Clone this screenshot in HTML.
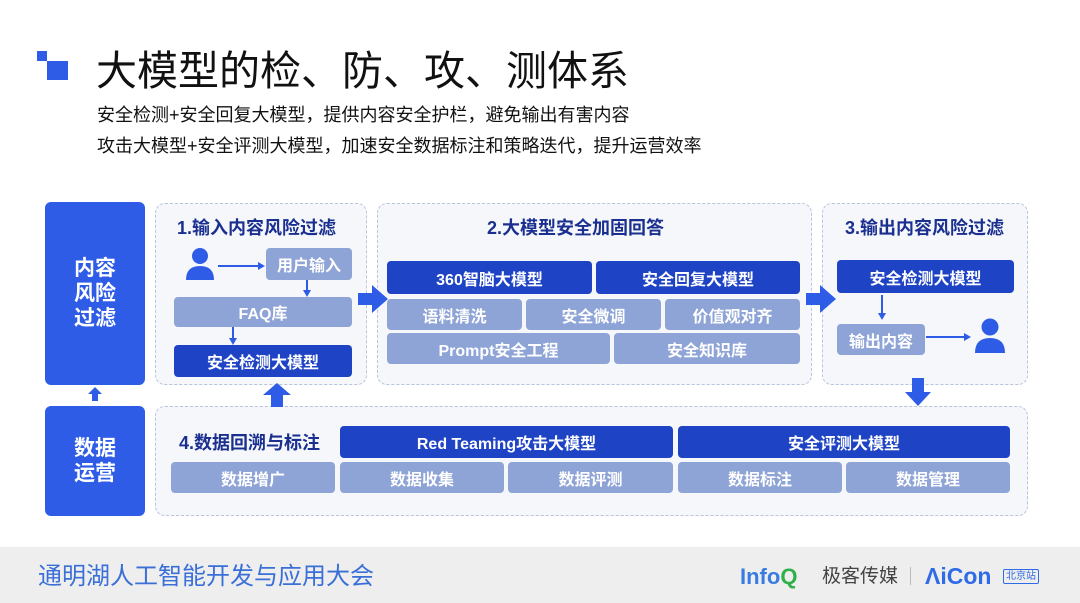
<!DOCTYPE html>
<html><head><meta charset="utf-8"><style>
*{margin:0;padding:0;box-sizing:border-box}
body{width:1080px;height:603px;background:#fff;position:relative;overflow:hidden;font-family:"Liberation Sans","Noto Sans CJK SC",sans-serif}
.a{position:absolute}
.b{position:absolute;display:flex;align-items:center;justify-content:center;color:#fff;font-weight:bold;font-size:16px;border-radius:4px;white-space:nowrap}
.d{background:#1e43c4}
.l{background:#8ea3d6}
.m{background:#2f5ce6;border-radius:6px;font-size:21px;line-height:25px;text-align:center}
.p{position:absolute;background:#f5f7fb;border:1.5px dashed #b9c3dc;border-radius:10px}
.t{position:absolute;color:#1a2f8f;font-weight:bold;font-size:18px;white-space:nowrap}
</style></head><body>
<div class="a" style="left:37px;top:51px;width:10px;height:10px;background:#2f5ce6"></div>
<div class="a" style="left:47px;top:61px;width:21px;height:19px;background:#2f5ce6"></div>
<div class="a" style="left:96px;top:45px;font-size:41px;color:#111;white-space:nowrap;line-height:52px">大模型的检、防、攻、测体系</div>
<div class="a" style="left:97px;top:104px;font-size:18px;color:#111;line-height:23px;white-space:nowrap">安全检测+安全回复大模型，提供内容安全护栏，避免输出有害内容</div>
<div class="a" style="left:97px;top:135px;font-size:18px;color:#111;line-height:23px;white-space:nowrap">攻击大模型+安全评测大模型，加速安全数据标注和策略迭代，提升运营效率</div>

<div class="b m" style="left:45px;top:202px;width:100px;height:183px">内容<br>风险<br>过滤</div>
<div class="b m" style="left:45px;top:406px;width:100px;height:110px">数据<br>运营</div>
<svg class="a" style="left:88px;top:387px" width="14" height="15"><polygon points="7,0 14,7 10,7 10,14 4,14 4,7 0,7" fill="#2f5ce6"/></svg>

<div class="p" style="left:155px;top:203px;width:212px;height:182px"></div>
<div class="p" style="left:377px;top:203px;width:435px;height:182px"></div>
<div class="p" style="left:822px;top:203px;width:206px;height:182px"></div>
<div class="p" style="left:155px;top:406px;width:873px;height:110px"></div>

<div class="t" style="left:177px;top:214px">1.输入内容风险过滤</div>
<svg class="a" style="left:185px;top:247px" width="32" height="34"><circle cx="15" cy="9" r="8" fill="#2f5ce6"/><path d="M1 33 Q1 19 15 19 Q29 19 29 33 Z" fill="#2f5ce6"/></svg>
<svg class="a" style="left:218px;top:260px" width="48" height="12"><line x1="0" y1="6" x2="42" y2="6" stroke="#2f5ce6" stroke-width="2"/><polygon points="40,2 47,6 40,10" fill="#2f5ce6"/></svg>
<div class="b l" style="left:266px;top:248px;width:86px;height:32px">用户输入</div>
<svg class="a" style="left:302px;top:280px" width="10" height="17"><line x1="5" y1="0" x2="5" y2="12" stroke="#2f5ce6" stroke-width="2"/><polygon points="1,10 9,10 5,17" fill="#2f5ce6"/></svg>
<div class="b l" style="left:174px;top:297px;width:178px;height:30px">FAQ库</div>
<svg class="a" style="left:228px;top:327px" width="10" height="18"><line x1="5" y1="0" x2="5" y2="12" stroke="#2f5ce6" stroke-width="2"/><polygon points="1,11 9,11 5,18" fill="#2f5ce6"/></svg>
<div class="b d" style="left:174px;top:345px;width:178px;height:32px">安全检测大模型</div>
<svg class="a" style="left:263px;top:383px" width="28" height="24"><polygon points="14,0 28,12 20,12 20,24 8,24 8,12 0,12" fill="#2f5ce6"/></svg>

<svg class="a" style="left:358px;top:285px" width="30" height="28"><polygon points="0,8 14,8 14,0 30,14 14,28 14,20 0,20" fill="#2f5ce6"/></svg>

<div class="t" style="left:487px;top:214px">2.大模型安全加固回答</div>
<div class="b d" style="left:387px;top:261px;width:205px;height:33px">360智脑大模型</div>
<div class="b d" style="left:596px;top:261px;width:204px;height:33px">安全回复大模型</div>
<div class="b l" style="left:387px;top:299px;width:135px;height:31px">语料清洗</div>
<div class="b l" style="left:526px;top:299px;width:135px;height:31px">安全微调</div>
<div class="b l" style="left:665px;top:299px;width:135px;height:31px">价值观对齐</div>
<div class="b l" style="left:387px;top:333px;width:223px;height:31px">Prompt安全工程</div>
<div class="b l" style="left:614px;top:333px;width:186px;height:31px">安全知识库</div>

<svg class="a" style="left:806px;top:285px" width="30" height="28"><polygon points="0,8 14,8 14,0 30,14 14,28 14,20 0,20" fill="#2f5ce6"/></svg>

<div class="t" style="left:845px;top:214px">3.输出内容风险过滤</div>
<div class="b d" style="left:837px;top:260px;width:177px;height:33px">安全检测大模型</div>
<svg class="a" style="left:877px;top:295px" width="10" height="25"><line x1="5" y1="0" x2="5" y2="19" stroke="#2f5ce6" stroke-width="2"/><polygon points="1,18 9,18 5,25" fill="#2f5ce6"/></svg>
<div class="b l" style="left:837px;top:324px;width:88px;height:31px">输出内容</div>
<svg class="a" style="left:926px;top:331px" width="46" height="12"><line x1="0" y1="6" x2="40" y2="6" stroke="#2f5ce6" stroke-width="2"/><polygon points="38,2 45,6 38,10" fill="#2f5ce6"/></svg>
<svg class="a" style="left:974px;top:318px" width="32" height="35"><circle cx="16" cy="9" r="8.5" fill="#2f5ce6"/><path d="M1 35 Q1 20 16 20 Q31 20 31 35 Z" fill="#2f5ce6"/></svg>
<svg class="a" style="left:905px;top:378px" width="26" height="28"><polygon points="7,0 19,0 19,14 26,14 13,28 0,14 7,14" fill="#2f5ce6"/></svg>

<div class="t" style="left:179px;top:429px">4.数据回溯与标注</div>
<div class="b d" style="left:340px;top:426px;width:333px;height:32px">Red Teaming攻击大模型</div>
<div class="b d" style="left:678px;top:426px;width:332px;height:32px">安全评测大模型</div>
<div class="b l" style="left:171px;top:462px;width:164px;height:31px">数据增广</div>
<div class="b l" style="left:340px;top:462px;width:164px;height:31px">数据收集</div>
<div class="b l" style="left:508px;top:462px;width:165px;height:31px">数据评测</div>
<div class="b l" style="left:678px;top:462px;width:164px;height:31px">数据标注</div>
<div class="b l" style="left:846px;top:462px;width:164px;height:31px">数据管理</div>

<div class="a" style="left:0;top:547px;width:1080px;height:56px;background:#eeeeee"></div>
<div class="a" style="left:38px;top:562px;font-size:24px;line-height:30px;color:#3a6fd8;white-space:nowrap">通明湖人工智能开发与应用大会</div>
<div class="a" style="left:740px;top:563px;font-size:22px;line-height:28px;font-weight:bold;color:#3a7be0;white-space:nowrap">Info<span style="color:#2fb04a">Q</span></div>
<div class="a" style="left:822px;top:564px;font-size:19px;line-height:26px;color:#444;white-space:nowrap">极客传媒</div>
<div class="a" style="left:910px;top:567px;width:1px;height:18px;background:#bbb"></div>
<div class="a" style="left:925px;top:562px;font-size:23px;line-height:28px;font-weight:bold;color:#2f6be6;white-space:nowrap">ΛiCon</div>
<div class="a" style="left:1003px;top:569px;font-size:10px;line-height:13px;padding:0 2px;border:1px solid #2f6be6;border-radius:2px;color:#2f6be6;white-space:nowrap">北京站</div>
</body></html>
